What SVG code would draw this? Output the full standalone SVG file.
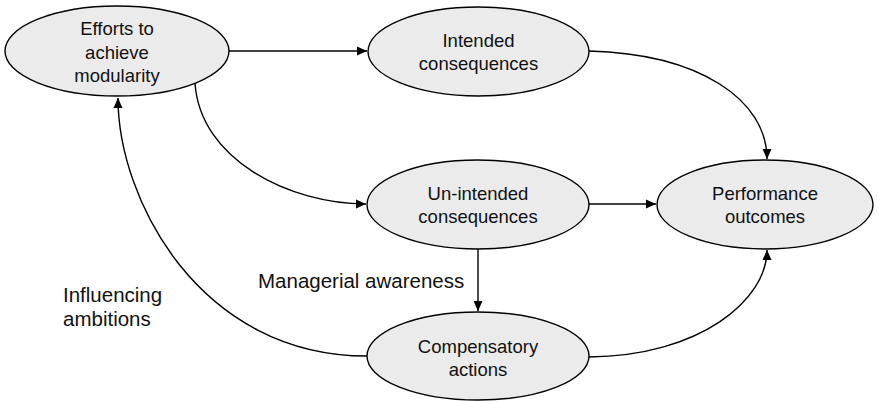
<svg xmlns="http://www.w3.org/2000/svg" width="878" height="401" viewBox="0 0 878 401">
<style>
.node ellipse{fill:#ebebeb;stroke:#000;stroke-width:1.4}
text{font-family:"Liberation Sans",Arial,sans-serif;font-size:18.5px;fill:#111}
.node text{text-anchor:middle}
.lbl{font-size:20.5px}
.edge{fill:none;stroke:#000;stroke-width:1.4;marker-end:url(#ah)}
</style>
<defs>
<marker id="ah" viewBox="0 0 10 10" refX="10" refY="5" markerWidth="10" markerHeight="10" markerUnits="userSpaceOnUse" orient="auto">
<path d="M0,0.5 L10,5 L0,9.5 z" fill="#000"/>
</marker>
</defs>
<rect width="878" height="401" fill="#fff"/>
<g id="connectors">
<path class="edge" d="M229,51 L367,51"/>
<path class="edge" d="M589,51 C700,54 767,100 767,159"/>
<path class="edge" d="M589,204 L656,204"/>
<path class="edge" d="M478,249 L478,311"/>
<path class="edge" d="M589,357 C700,356 767,300 767,250"/>
<path class="edge" d="M195,83 C200,160 290,204 366,204"/>
<path class="edge" d="M367,356 C200,356 118,200 118,98"/>
</g>
<g id="efforts" class="node">
<ellipse cx="117" cy="51" rx="112" ry="45"/>
<text x="117" y="35">Efforts to</text>
<text x="117" y="59">achieve</text>
<text x="117" y="82">modularity</text>
</g>
<g id="intended" class="node">
<ellipse cx="478.5" cy="51.5" rx="110.5" ry="44.5"/>
<text x="478.5" y="47">Intended</text>
<text x="478.5" y="70">consequences</text>
</g>
<g id="unintended" class="node">
<ellipse cx="478" cy="204.5" rx="111" ry="44.5"/>
<text x="478" y="200">Un-intended</text>
<text x="478" y="223">consequences</text>
</g>
<g id="performance" class="node">
<ellipse cx="765" cy="204.5" rx="108" ry="44.5"/>
<text x="765" y="200">Performance</text>
<text x="765" y="223">outcomes</text>
</g>
<g id="compensatory" class="node">
<ellipse cx="478" cy="356" rx="111" ry="44"/>
<text x="478" y="353">Compensatory</text>
<text x="478" y="376">actions</text>
</g>
<g id="labels">
<text class="lbl" x="258" y="288">Managerial awareness</text>
<text class="lbl" x="63" y="302">Influencing</text>
<text class="lbl" x="63" y="326">ambitions</text>
</g>
</svg>
